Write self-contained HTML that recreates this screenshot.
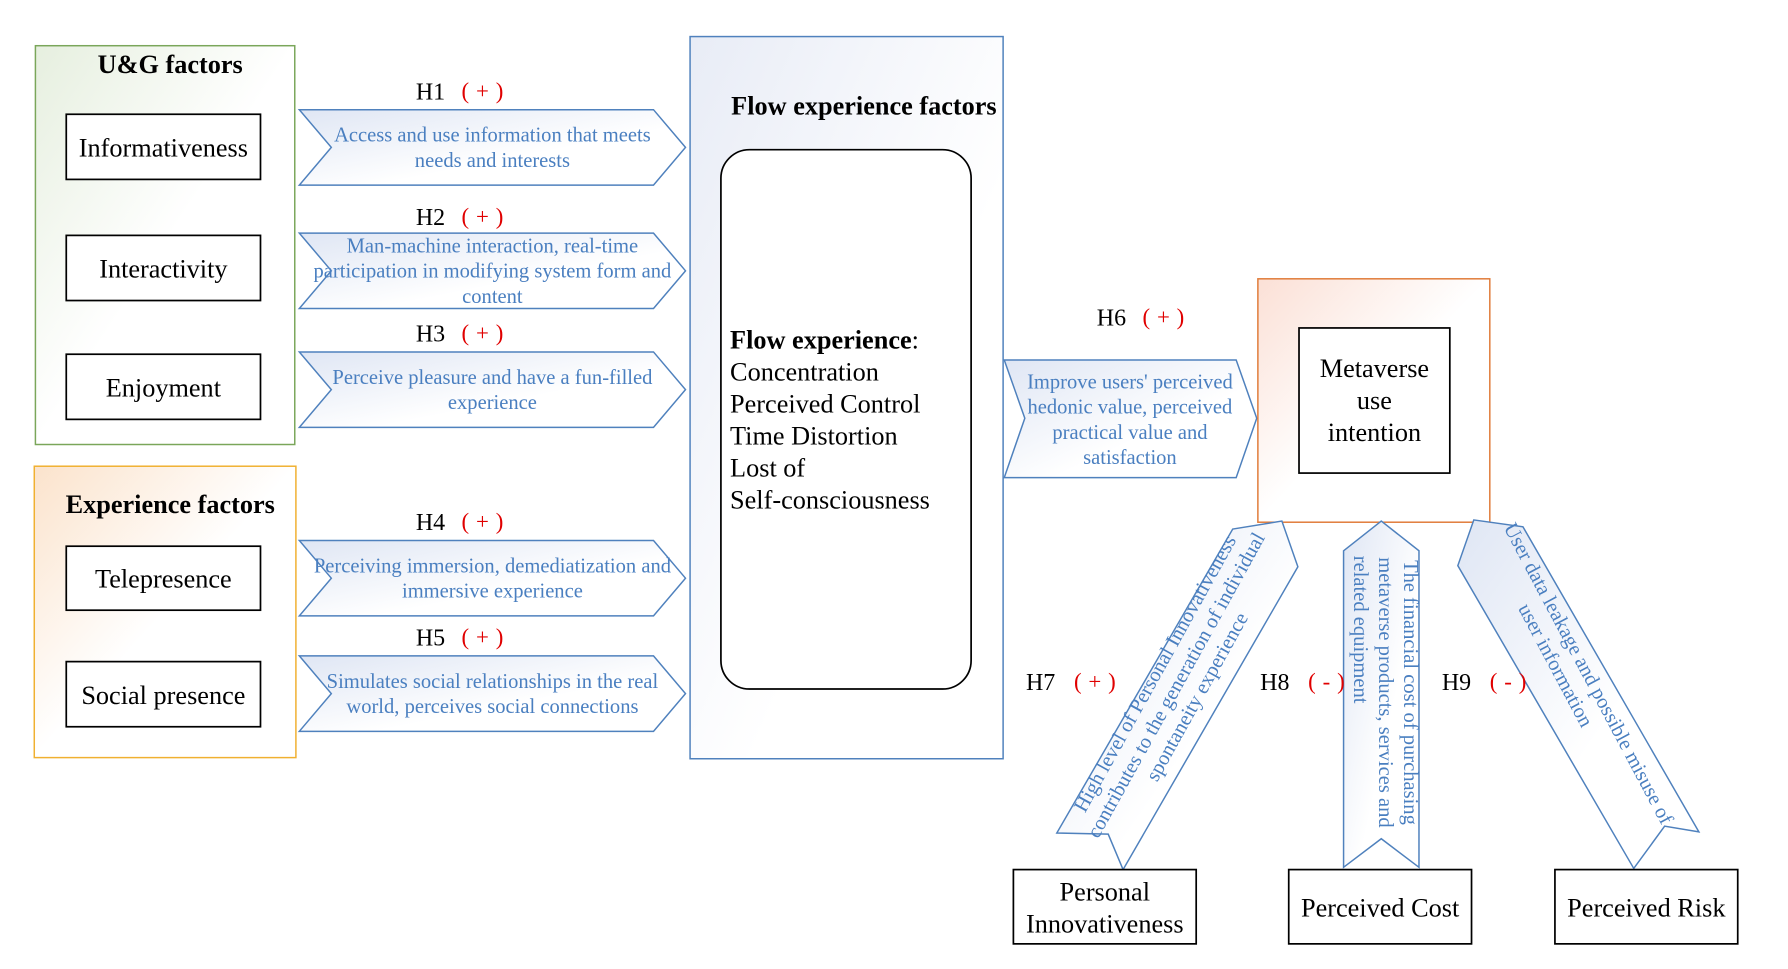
<!DOCTYPE html>
<html><head><meta charset="utf-8"><style>
html,body{margin:0;padding:0;background:#fff;}
svg{display:block;}
text{font-family:"Liberation Serif",serif;}
.b{fill:#000;font-size:23px;}
.t{fill:#4a7fc0;font-size:18px;}
.h{fill:#000;font-size:21px;}
.r{fill:#e00000;font-size:20px;letter-spacing:6px;}
.bx{fill:#fff;stroke:#000;stroke-width:1.5;}
.ar{fill:url(#ga);stroke:#4f81bd;stroke-width:1.3;}
</style></head><body>
<svg width="1788" height="969" viewBox="0 0 1565 848" preserveAspectRatio="none" xmlns="http://www.w3.org/2000/svg">
<defs>
<linearGradient id="ga" x1="0" y1="0" x2="1" y2="1"><stop offset="0" stop-color="#dfe6f4"/><stop offset="0.6" stop-color="#fff"/></linearGradient>
<linearGradient id="gg" x1="0" y1="0" x2="1" y2="1"><stop offset="0" stop-color="#e6efdf"/><stop offset="0.5" stop-color="#fff"/></linearGradient>
<linearGradient id="go" x1="0" y1="0" x2="1" y2="1"><stop offset="0" stop-color="#fbe3cc"/><stop offset="0.5" stop-color="#fff"/></linearGradient>
<linearGradient id="gb" x1="0" y1="0" x2="1" y2="1"><stop offset="0" stop-color="#e8ecf6"/><stop offset="0.6" stop-color="#fff"/></linearGradient>
<linearGradient id="gm" x1="0" y1="0" x2="1" y2="1"><stop offset="0" stop-color="#fbe0d6"/><stop offset="0.5" stop-color="#fff"/></linearGradient>
</defs>
<rect x="31" y="40" width="227" height="349" fill="url(#gg)" stroke="#7aa65a" stroke-width="1.3"/>
<text x="149" y="64" text-anchor="middle" class="b" font-weight="bold">U&amp;G factors</text>
<rect class="bx" x="58" y="100" width="170" height="57"/><text x="143" y="137" text-anchor="middle" class="b">Informativeness</text>
<rect class="bx" x="58" y="206" width="170" height="57"/><text x="143" y="243" text-anchor="middle" class="b">Interactivity</text>
<rect class="bx" x="58" y="310" width="170" height="57"/><text x="143" y="347" text-anchor="middle" class="b">Enjoyment</text>
<rect x="30" y="408" width="229" height="255" fill="url(#go)" stroke="#f0b030" stroke-width="1.3"/>
<text x="149" y="449" text-anchor="middle" class="b" font-weight="bold">Experience factors</text>
<rect class="bx" x="58" y="478" width="170" height="56"/><text x="143" y="514" text-anchor="middle" class="b">Telepresence</text>
<rect class="bx" x="58" y="579" width="170" height="57"/><text x="143" y="616" text-anchor="middle" class="b">Social presence</text>

<g>
<polygon class="ar" points="262,96 572,96 600,129 572,162 262,162 290,129"/>
<text x="431" y="124" text-anchor="middle" class="t">Access and use information that meets</text>
<text x="431" y="146" text-anchor="middle" class="t">needs and interests</text>
<text x="364" y="87" class="h">H1</text><text x="404" y="86" class="r">(+)</text>
<polygon class="ar" points="262,204 572,204 600,237 572,270 262,270 290,237"/>
<text x="431" y="221" text-anchor="middle" class="t">Man-machine interaction, real-time</text>
<text x="431" y="243" text-anchor="middle" class="t">participation in modifying system form and</text>
<text x="431" y="265" text-anchor="middle" class="t">content</text>
<text x="364" y="197" class="h">H2</text><text x="404" y="196" class="r">(+)</text>
<polygon class="ar" points="262,308 572,308 600,341 572,374 262,374 290,341"/>
<text x="431" y="336" text-anchor="middle" class="t">Perceive pleasure and have a fun-filled</text>
<text x="431" y="358" text-anchor="middle" class="t">experience</text>
<text x="364" y="299" class="h">H3</text><text x="404" y="298" class="r">(+)</text>
<polygon class="ar" points="262,473 572,473 600,506 572,539 262,539 290,506"/>
<text x="431" y="501" text-anchor="middle" class="t">Perceiving immersion, demediatization and</text>
<text x="431" y="523" text-anchor="middle" class="t">immersive experience</text>
<text x="364" y="464" class="h">H4</text><text x="404" y="463" class="r">(+)</text>
<polygon class="ar" points="262,574 572,574 600,607 572,640 262,640 290,607"/>
<text x="431" y="602" text-anchor="middle" class="t">Simulates social relationships in the real</text>
<text x="431" y="624" text-anchor="middle" class="t">world, perceives social connections</text>
<text x="364" y="565" class="h">H5</text><text x="404" y="564" class="r">(+)</text>
</g>

<rect x="604" y="32" width="274" height="632" fill="url(#gb)" stroke="#4f81bd" stroke-width="1.3"/>
<text x="640" y="100" class="b" font-weight="bold">Flow experience factors</text>
<rect class="bx" x="631" y="131" width="219" height="472" rx="25"/>
<text x="639" y="305" class="b"><tspan font-weight="bold">Flow experience</tspan>:</text>
<text x="639" y="333" class="b">Concentration</text>
<text x="639" y="361" class="b">Perceived Control</text>
<text x="639" y="389" class="b">Time Distortion</text>
<text x="639" y="417" class="b">Lost of</text>
<text x="639" y="445" class="b">Self-consciousness</text>

<polygon class="ar" points="879,315 1082,315 1100,366 1082,418 879,418 897,366"/>
<text x="989" y="340" text-anchor="middle" class="t">Improve users' perceived</text>
<text x="989" y="362" text-anchor="middle" class="t">hedonic value, perceived</text>
<text x="989" y="384" text-anchor="middle" class="t">practical value and</text>
<text x="989" y="406" text-anchor="middle" class="t">satisfaction</text>
<text x="960" y="285" class="h">H6</text><text x="1000" y="284" class="r">(+)</text>

<rect x="1101" y="244" width="203" height="213" fill="url(#gm)" stroke="#e07b39" stroke-width="1.3"/>
<rect class="bx" x="1137" y="287" width="132" height="127"/>
<text x="1203" y="330" text-anchor="middle" class="b">Metaverse</text>
<text x="1203" y="358" text-anchor="middle" class="b">use</text>
<text x="1203" y="386" text-anchor="middle" class="b">intention</text>

<polygon class="ar" points="1079,463 1122,456 1136,496 983,761 970,730 925,729"/>
<g transform="translate(1030,600) rotate(-61)">
<text x="0" y="-16" text-anchor="middle" class="t">High level of Personal Innovativeness</text>
<text x="0" y="5" text-anchor="middle" class="t">contributes to the generation of individual</text>
<text x="0" y="26" text-anchor="middle" class="t">spontaneity experience</text>
</g>
<polygon class="ar" points="1176,482 1209,456 1242,482 1242,759 1209,734 1176,759"/>
<g transform="translate(1209,606) rotate(90)">
<text x="0" y="-20" text-anchor="middle" class="t">The financial cost of purchasing</text>
<text x="0" y="2" text-anchor="middle" class="t">metaverse products, services and</text>
<text x="-55" y="24" text-anchor="middle" class="t">related equipment</text>
</g>
<polygon class="ar" points="1290,455 1333,461 1487,728 1457,723 1430,760 1276,495"/>
<g transform="translate(1380,595) rotate(62)">
<text x="0" y="-6" text-anchor="middle" class="t">User data leakage and possible misuse of</text>
<text x="-20" y="16" text-anchor="middle" class="t">user information</text>
</g>

<text x="898" y="604" class="h">H7</text><text x="940" y="603" class="r">(+)</text>
<text x="1103" y="604" class="h">H8</text><text x="1145" y="603" class="r">(-)</text>
<text x="1262" y="604" class="h">H9</text><text x="1304" y="603" class="r">(-)</text>

<rect class="bx" x="887" y="761" width="160" height="65"/>
<text x="967" y="788" text-anchor="middle" class="b">Personal</text>
<text x="967" y="816" text-anchor="middle" class="b">Innovativeness</text>
<rect class="bx" x="1128" y="761" width="160" height="65"/>
<text x="1208" y="802" text-anchor="middle" class="b">Perceived Cost</text>
<rect class="bx" x="1361" y="761" width="160" height="65"/>
<text x="1441" y="802" text-anchor="middle" class="b">Perceived Risk</text>
</svg>
</body></html>
